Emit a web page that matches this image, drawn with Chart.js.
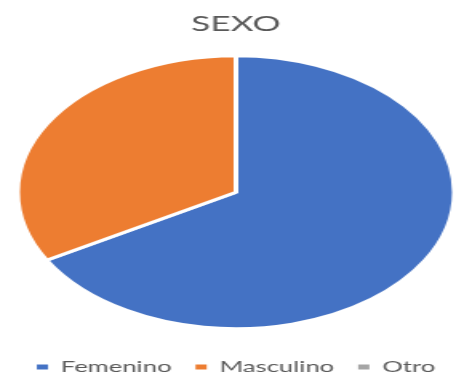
<!DOCTYPE html>
<html>
<head>
<meta charset="utf-8">
<script src="https://cdn.jsdelivr.net/npm/chart.js@4/dist/chart.umd.min.js"></script>
<style>
  html, body { margin: 0; padding: 0; background: #ffffff; overflow: hidden; width: 456px; height: 373px; position: relative; }
  #wrap { position: absolute; left: 8px; top: 0; width: 285px; height: 385px; transform: scaleX(1.6); transform-origin: 0 0; }
  canvas { display: block; }
</style>
</head>
<body>
<div id="wrap"><canvas id="c" width="285" height="385"></canvas></div>
<script>
const title = "SEXO";
const categories = ["Femenino", "Masculino", "Otro"];
const values = [66.7, 33.3, 0];
const colors = ["#4472C4", "#ED7D31", "#A5A5A5"];

new Chart(document.getElementById("c"), {
  type: "pie",
  data: {
    labels: categories,
    datasets: [{
      data: values,
      backgroundColor: colors,
      borderColor: "#ffffff",
      borderWidth: 3,
      radius: 136.5
    }]
  },
  options: {
    responsive: false,
    animation: false,
    devicePixelRatio: 1,
    layout: { padding: 0 },
    plugins: {
      title: {
        display: true,
        text: title,
        color: "#595959",
        font: { family: "Lato", size: 22, weight: "normal" },
        padding: { top: 11, bottom: 3 }
      },
      legend: {
        position: "bottom",
        labels: {
          color: "#595959",
          font: { family: "Lato", size: 16 },
          boxWidth: 7,
          boxHeight: 5,
          padding: 15,
          generateLabels: (chart) =>
            Chart.overrides.pie.plugins.legend.labels.generateLabels(chart)
              .map(l => Object.assign({}, l, { lineWidth: 0, strokeStyle: "rgba(0,0,0,0)" }))
        }
      },
      tooltip: { enabled: false }
    }
  }
});
</script>
</body>
</html>
